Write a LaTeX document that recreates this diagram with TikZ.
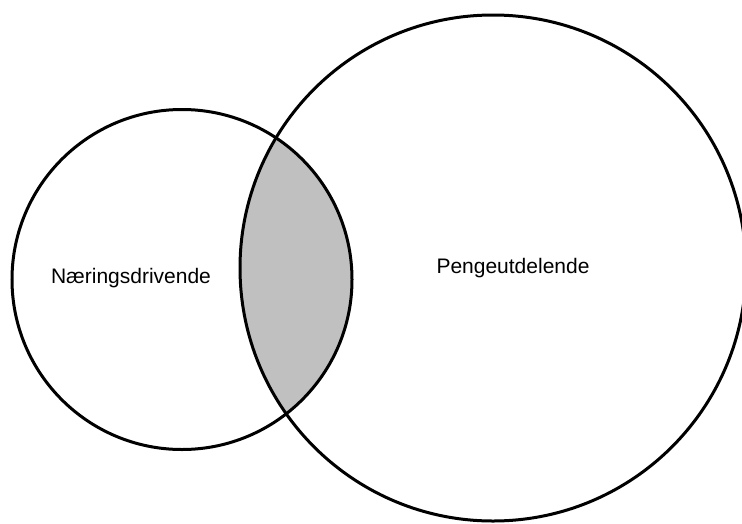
\documentclass[tikz,border=0pt]{standalone}
\usepackage{fontspec}
\setmainfont{Liberation Sans}
\definecolor{lensgray}{RGB}{192,192,192}
\begin{document}
\begin{tikzpicture}[x=1pt,y=-1pt,
  setcircle/.style={circle, draw=black, line width=3pt, inner sep=0pt},
  setlabel/.style={font=\fontsize{21}{25}\selectfont, inner sep=0pt}]
\useasboundingbox (0,0) rectangle (742,523);
\begin{scope}
  \clip (182,279.5) circle (170);
  \fill[lensgray] (493,268) circle (253);
\end{scope}
\node[setcircle, minimum size=340pt] (left) at (182,279.5) {};
\node[setcircle, minimum size=506pt] (right) at (493,268) {};
\node[setlabel] (ltext) at (131,278) {Næringsdrivende};
\node[setlabel] (rtext) at (513,268) {Pengeutdelende};
\end{tikzpicture}
\end{document}
